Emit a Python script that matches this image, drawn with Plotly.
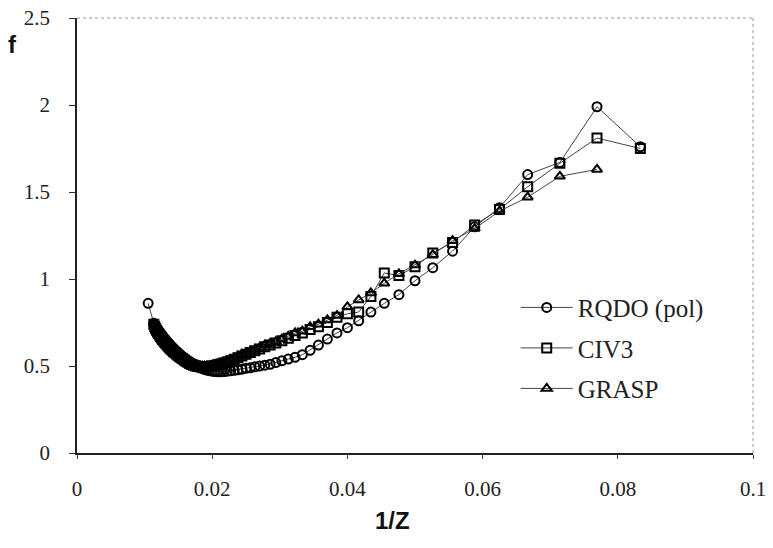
import plotly.graph_objects as go

# ---- data ----
z_common = list(range(12, 89))

# RQDO (pol): Z = 12..88 and an extra point at Z = 95
z_rqdo = list(range(12, 89)) + [95]
f_rqdo = [1.76, 1.99, 1.67, 1.60, 1.41, 1.30, 1.16, 1.065, 0.99, 0.91,
          0.86, 0.81, 0.76, 0.72, 0.69, 0.655, 0.62, 0.59, 0.565, 0.55,
          0.54, 0.53, 0.52, 0.51, 0.505, 0.50, 0.495, 0.49, 0.487, 0.482,
          0.478, 0.475, 0.472, 0.47, 0.468, 0.467, 0.467, 0.468, 0.47, 0.473,
          0.476, 0.48, 0.485, 0.49, 0.496, 0.502, 0.508, 0.515, 0.522, 0.53,
          0.537, 0.545, 0.553, 0.561, 0.569, 0.577, 0.585, 0.593, 0.601, 0.609,
          0.617, 0.625, 0.633, 0.641, 0.649, 0.657, 0.665, 0.673, 0.681, 0.689,
          0.697, 0.705, 0.713, 0.721, 0.729, 0.737, 0.745,
          0.86]

# CIV3: Z = 12..88
f_civ3 = [1.75, 1.81, 1.665, 1.53, 1.40, 1.31, 1.21, 1.15, 1.07, 1.02,
          1.035, 0.90, 0.81, 0.80, 0.78, 0.75, 0.725, 0.71, 0.69, 0.675,
          0.66, 0.645, 0.632, 0.62, 0.61, 0.598, 0.587, 0.577, 0.567, 0.557,
          0.548, 0.539, 0.53, 0.523, 0.517, 0.512, 0.507, 0.503, 0.50, 0.497,
          0.495, 0.494, 0.494, 0.495, 0.497, 0.50, 0.504, 0.509, 0.515, 0.521,
          0.527, 0.534, 0.541, 0.548, 0.555, 0.562, 0.569, 0.576, 0.583, 0.59,
          0.597, 0.605, 0.613, 0.621, 0.629, 0.637, 0.645, 0.653, 0.661, 0.669,
          0.678, 0.687, 0.696, 0.705, 0.715, 0.727, 0.74]

# GRASP: Z = 12..88 (no value at Z = 12)
f_grasp = [None, 1.63, 1.59, 1.47, 1.39, 1.29, 1.22, 1.14, 1.08, 1.03,
           0.975, 0.92, 0.88, 0.84, 0.79, 0.765, 0.74, 0.725, 0.70, 0.69,
           0.67, 0.655, 0.64, 0.63, 0.62, 0.605, 0.595, 0.585, 0.575, 0.565,
           0.555, 0.545, 0.535, 0.528, 0.522, 0.517, 0.512, 0.508, 0.505, 0.502,
           0.50, 0.499, 0.499, 0.50, 0.502, 0.505, 0.509, 0.514, 0.52, 0.526,
           0.532, 0.539, 0.546, 0.553, 0.56, 0.567, 0.574, 0.581, 0.588, 0.595,
           0.602, 0.61, 0.618, 0.626, 0.634, 0.642, 0.65, 0.658, 0.666, 0.674,
           0.683, 0.692, 0.701, 0.71, 0.72, 0.732, 0.745]

series_names = ["RQDO (pol)", "CIV3", "GRASP"]
x_ticks = [0, 0.02, 0.04, 0.06, 0.08, 0.1]
x_tick_text = ["0", "0.02", "0.04", "0.06", "0.08", "0.1"]
y_ticks = [0, 0.5, 1, 1.5, 2, 2.5]
y_tick_text = ["0", "0.5", "1", "1.5", "2", "2.5"]

inv = lambda zs: [1.0 / z for z in zs]

serif = "Liberation Serif, Times New Roman, serif"
sans = "Liberation Sans, Arial, sans-serif"

fig = go.Figure()
specs = [
    (series_names[0], inv(z_rqdo), f_rqdo, "circle-open"),
    (series_names[1], inv(z_common), f_civ3, "square-open"),
    (series_names[2], inv(z_common), f_grasp, "triangle-up-open"),
]
for i, (name, xs, ys, sym) in enumerate(specs):
    fig.add_trace(go.Scatter(
        x=xs, y=ys, name=name, mode="lines+markers",
        legendgroup=str(i),
        line=dict(color="#444444", width=1),
        marker=dict(symbol=sym, size=9, color="#000000",
                    line=dict(color="#000000", width=2)),
    ))

fig.update_layout(
    width=773, height=548,
    margin=dict(l=77, r=20, t=18, b=95),
    paper_bgcolor="white", plot_bgcolor="white",
    font=dict(family=serif, size=21, color="#222222"),
    showlegend=True,
    legend=dict(x=0.649, y=0.387, xanchor="left", yanchor="top",
                bgcolor="rgba(0,0,0,0)", font=dict(family=serif, size=25, color="#222222"),
                itemwidth=52, tracegroupgap=5),
    xaxis=dict(range=[0, 0.1], tickvals=x_ticks, ticktext=x_tick_text,
               automargin=False, ticklabeloverflow="allow",
               showgrid=False, zeroline=False, showline=True,
               linecolor="#222222", linewidth=1.5,
               ticks="outside", ticklen=4, tickcolor="#444444",
               ticklabelstandoff=12,
               tickfont=dict(family=serif, size=21, color="#222222")),
    yaxis=dict(range=[0, 2.5], tickvals=y_ticks, ticktext=y_tick_text,
               automargin=False, ticklabeloverflow="allow",
               showgrid=False, zeroline=False, showline=True,
               linecolor="#222222", linewidth=1.5,
               ticks="outside", ticklen=6, tickcolor="#333333",
               ticklabelstandoff=15,
               tickfont=dict(family=serif, size=21, color="#222222")),
    shapes=[
        dict(type="line", xref="paper", yref="paper", x0=0, x1=1, y0=1, y1=1,
             line=dict(color="#999999", width=1, dash="dot")),
        dict(type="line", xref="paper", yref="paper", x0=1, x1=1, y0=0, y1=1,
             line=dict(color="#999999", width=1, dash="dot")),
    ],
    annotations=[
        dict(text="<b>f</b>", xref="paper", yref="paper", x=-0.095, y=0.938,
             xanchor="center", yanchor="middle", showarrow=False,
             font=dict(family=sans, size=24, color="#111111")),
        dict(text="<b>1/Z</b>", xref="paper", yref="paper", x=0.466, y=-0.156,
             xanchor="center", yanchor="middle", showarrow=False,
             font=dict(family=sans, size=24, color="#111111")),
    ],
)

# remove the default 8px page margin so the figure fills the window exactly
fig.write_html("out.html",
               config={"displayModeBar": False},
               post_script="document.body.style.margin='0';document.body.style.overflow='hidden';")
